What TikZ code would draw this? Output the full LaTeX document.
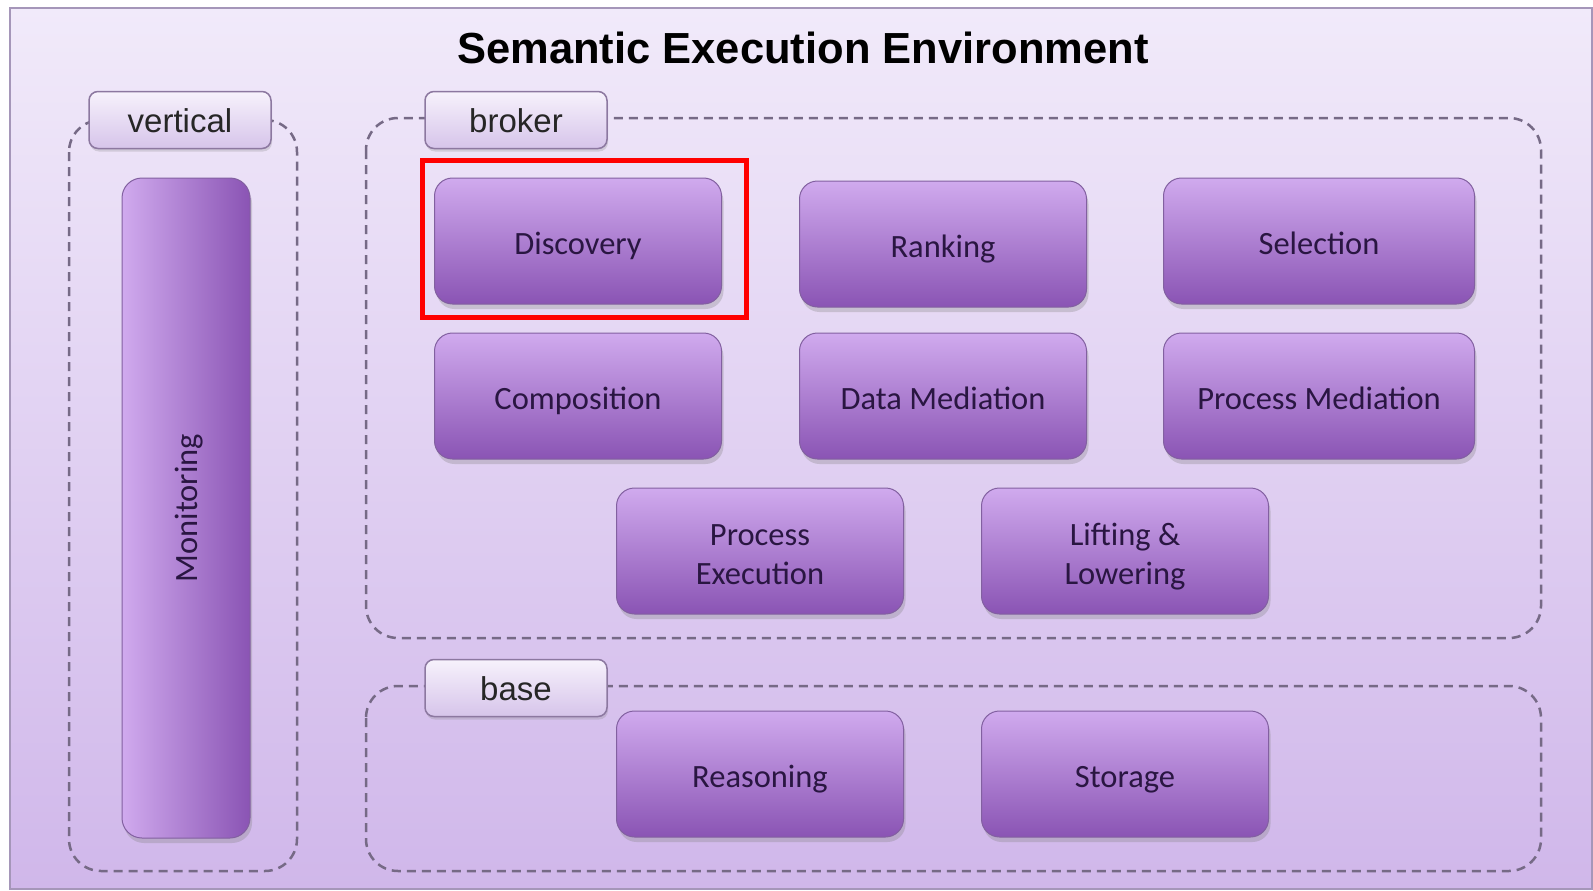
\documentclass[tikz,border=0pt]{standalone}
\usepackage{fontspec}
\setmainfont{Carlito}
\newfontfamily\headfont{Liberation Sans}
\usepackage{xcolor}
\usetikzlibrary{shadows, positioning}
\definecolor{cFrameTop}{RGB}{241,234,250}
\definecolor{cFrameBot}{RGB}{208,183,234}
\definecolor{cFrameLine}{RGB}{165,150,185}
\definecolor{cBoxTop}{RGB}{208,170,238}
\definecolor{cBoxBot}{RGB}{138,84,180}
\definecolor{cBoxLine}{RGB}{130,96,160}
\definecolor{cBoxText}{RGB}{42,22,66}
\definecolor{cTabTop}{RGB}{247,242,252}
\definecolor{cTabBot}{RGB}{214,196,234}
\definecolor{cTabLine}{RGB}{140,120,160}
\definecolor{cDash}{RGB}{118,106,134}
\tikzset{
	modbox/.style={rectangle, rounded corners=18pt, minimum width=287pt, minimum height=126pt, align=center, text height=27pt, text depth=0pt, draw=cBoxLine, line width=1pt, top color=cBoxTop, bottom color=cBoxBot, text=cBoxText, font=\fontsize{32.5}{39}\selectfont, drop shadow={shadow xshift=2pt, shadow yshift=-5pt, opacity=0.3}},
	widebox/.style={modbox, minimum width=311pt},
	twoline/.style={modbox, text height=66pt},
	tabbox/.style={rectangle, rounded corners=9pt, minimum width=182pt, minimum height=57pt, text height=25pt, text depth=0pt, draw=cTabLine, line width=1.5pt, top color=cTabTop, bottom color=cTabBot, text=black!85, font=\headfont\fontsize{33}{38}\selectfont, drop shadow={shadow xshift=1pt, shadow yshift=-3pt, opacity=0.25}},
	barbox/.style={rectangle, rounded corners=20pt, minimum width=128pt, minimum height=660pt, draw=cBoxLine, line width=1pt, left color=cBoxTop, right color=cBoxBot, text=cBoxText, font=\fontsize{32.5}{39}\selectfont, drop shadow={shadow xshift=2pt, shadow yshift=-5pt, opacity=0.3}},
	% dashed group frames
	grouparea/.style={draw=cDash, dash pattern=on 9pt off 6pt, line width=2.5pt, rounded corners=32pt},
	hilite/.style={draw=red, line width=5pt},
}
\begin{document}
\begin{tikzpicture}[x=1pt, y=1pt]
	\useasboundingbox (0,0) rectangle (1593,-891);
	\draw[cFrameLine, line width=2pt, top color=cFrameTop, bottom color=cFrameBot] (10,-8) rectangle (1592,-889);
	\node[font=\headfont\bfseries\fontsize{43.5}{50}\selectfont] (title) at (803,-48) {Semantic Execution Environment};

	% groups
	\draw[grouparea] (69,-120) rectangle (297,-871);
	\draw[grouparea] (366,-118) rectangle (1541,-638);
	\draw[grouparea] (366,-686) rectangle (1541,-871);

	\node[tabbox] (vertical) at (180,-120) {vertical};
	\node[tabbox] (broker) at (516,-120) {broker};
	\node[tabbox] (base) at (516,-688) {base};

	\node[barbox] (monitor) at (186,-508) {\hspace{7pt}\rotatebox{90}{Monitoring}};

	\foreach \name/\x/\y/\txt in {disc/578/241/Discovery, rank/943/244/Ranking, comp/578/396/Composition, datamed/943/396/Data Mediation, reason/760/774/Reasoning, store/1125/774/Storage} {
		\node[modbox] (\name) at (\x,-\y) {\txt};
	}
	\node[widebox] (select) at (1319,-241) {Selection};
	\node[widebox] (procmed) at (1319,-396) {Process Mediation};
	\node[twoline] (procexe) at (760,-551) {Process\\Execution};
	\node[twoline] (lift) at (1125,-551) {Lifting \&\\Lowering};

	\draw[hilite] (422,-160) rectangle (746,-317);
\end{tikzpicture}
\end{document}
